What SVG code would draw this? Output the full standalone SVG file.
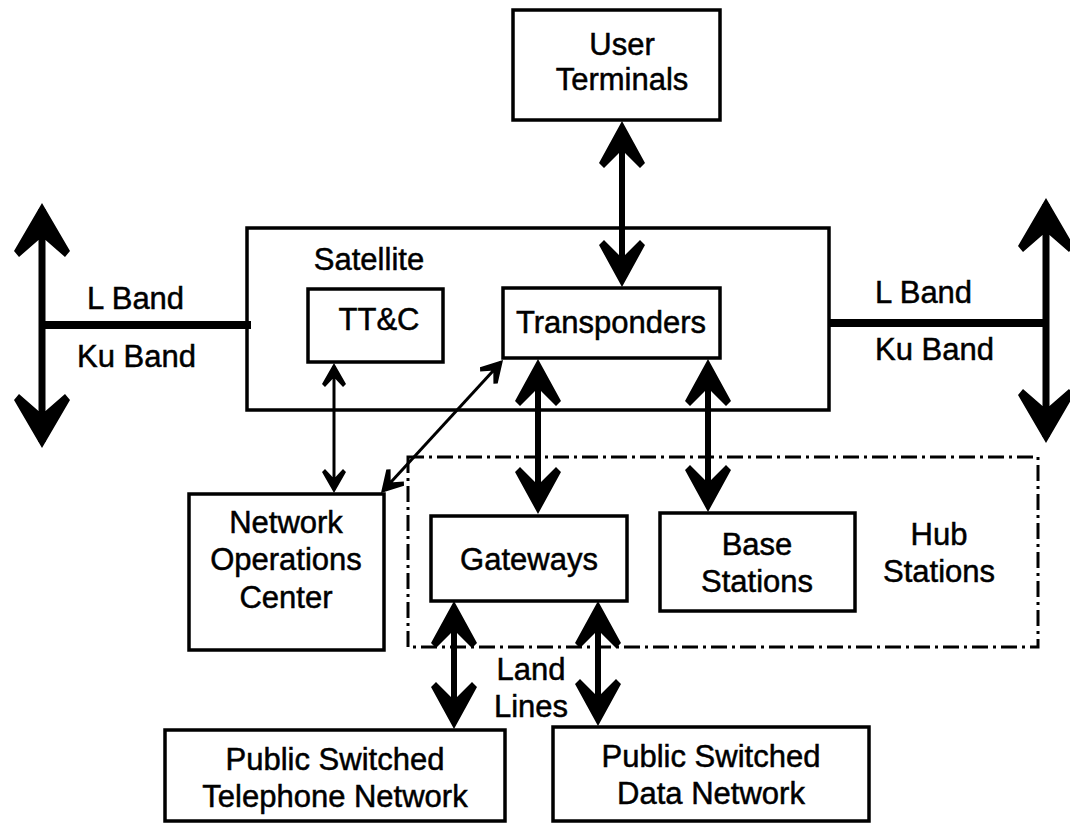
<svg xmlns="http://www.w3.org/2000/svg" width="1070" height="823" viewBox="0 0 1070 823">
<defs>
<style>
.box{fill:#fff;stroke:#000;stroke-width:3.5}
.hub{fill:none;stroke:#000;stroke-width:3;stroke-dasharray:16 5 3 5}
.t{font-family:"Liberation Sans",Arial,sans-serif;font-size:31px;fill:#000;stroke:#000;stroke-width:0.5;text-anchor:middle}
.ts{font-family:"Liberation Sans",Arial,sans-serif;font-size:31px;fill:#000;stroke:#000;stroke-width:0.5;text-anchor:start}
.big{stroke:#000;stroke-width:7;fill:none;marker-start:url(#hb);marker-end:url(#hb)}
.med{stroke:#000;stroke-width:6;fill:none;marker-start:url(#hm);marker-end:url(#hm)}
.thin{stroke:#000;stroke-width:3;fill:none;marker-start:url(#ht);marker-end:url(#ht)}
.bar{stroke:#000;stroke-width:8;fill:none}
</style>
<marker id="hb" markerUnits="userSpaceOnUse" viewBox="-60 -32 70 64" refX="-6" refY="0" markerWidth="70" markerHeight="64" orient="auto-start-reverse">
<polygon points="0,0 -48,-28 -54,-23 -37,-3.5 -37,3.5 -54,23 -48,28" fill="#000"/>
</marker>
<marker id="hm" markerUnits="userSpaceOnUse" viewBox="-56 -28 66 56" refX="-6" refY="0" markerWidth="66" markerHeight="56" orient="auto-start-reverse">
<polygon points="0,0 -42,-23 -47,-18 -32,-3 -32,3 -47,18 -42,23" fill="#000"/>
</marker>
<marker id="ht" markerUnits="userSpaceOnUse" viewBox="-30 -16 36 32" refX="-3" refY="0" markerWidth="36" markerHeight="32" orient="auto-start-reverse">
<polygon points="0,0 -21,-12 -24,-9 -16,-1.5 -16,1.5 -24,9 -21,12" fill="#000"/>
</marker>
</defs>
<rect width="1070" height="823" fill="#fff"/>

<g id="hub-stations">
<rect class="hub" x="408" y="457" width="630" height="190"/>
<text class="t" x="939" y="545">Hub</text>
<text class="t" x="939" y="582">Stations</text>
</g>

<g id="satellite">
<rect class="box" x="247" y="228" width="582" height="182"/>
<text class="t" x="369" y="270">Satellite</text>
</g>

<g id="user-terminals">
<rect class="box" x="513" y="10" width="207" height="110"/>
<text class="t" x="622" y="55">User</text>
<text class="t" x="622" y="90">Terminals</text>
</g>

<g id="ttc">
<rect class="box" x="308" y="289" width="135" height="73"/>
<text class="t" x="379" y="330">TT&amp;C</text>
</g>

<g id="transponders">
<rect class="box" x="503" y="288" width="217" height="70"/>
<text class="t" x="611" y="333">Transponders</text>
</g>

<g id="noc">
<rect class="box" x="189" y="494" width="195" height="156"/>
<text class="t" x="286" y="533">Network</text>
<text class="t" x="286" y="570">Operations</text>
<text class="t" x="286" y="608">Center</text>
</g>

<g id="gateways">
<rect class="box" x="431" y="516" width="196" height="85"/>
<text class="t" x="529" y="570">Gateways</text>
</g>

<g id="base-stations">
<rect class="box" x="660" y="513" width="195" height="98"/>
<text class="t" x="757" y="555">Base</text>
<text class="t" x="757" y="592">Stations</text>
</g>

<g id="pstn">
<rect class="box" x="165" y="730" width="340" height="91"/>
<text class="t" x="335" y="770">Public Switched</text>
<text class="t" x="335" y="807">Telephone Network</text>
</g>

<g id="psdn">
<rect class="box" x="553" y="727" width="316" height="94"/>
<text class="t" x="711" y="767">Public Switched</text>
<text class="t" x="711" y="804">Data Network</text>
</g>

<g id="connectors">
<line class="bar" x1="42" y1="325" x2="251" y2="325"/>
<line class="bar" x1="829" y1="323" x2="1046" y2="323"/>
<line class="big" x1="42" y1="209" x2="42" y2="442"/>
<line class="big" x1="1046" y1="204" x2="1046" y2="437"/>
<line class="med" x1="622" y1="127" x2="622" y2="281"/>
<line class="med" x1="538" y1="365" x2="538" y2="508"/>
<line class="med" x1="708" y1="365" x2="708" y2="506"/>
<line class="med" x1="454" y1="607" x2="454" y2="723"/>
<line class="med" x1="598" y1="607" x2="598" y2="720"/>
<line class="thin" x1="334" y1="366" x2="334" y2="490"/>
<line class="thin" x1="501" y1="362.2" x2="383" y2="490.8"/>
<text class="ts" x="87" y="309">L Band</text>
<text class="ts" x="77" y="367">Ku Band</text>
<text class="ts" x="875" y="303">L Band</text>
<text class="ts" x="875" y="360">Ku Band</text>
<text class="t" x="531" y="680">Land</text>
<text class="t" x="531" y="717">Lines</text>
</g>
</svg>
